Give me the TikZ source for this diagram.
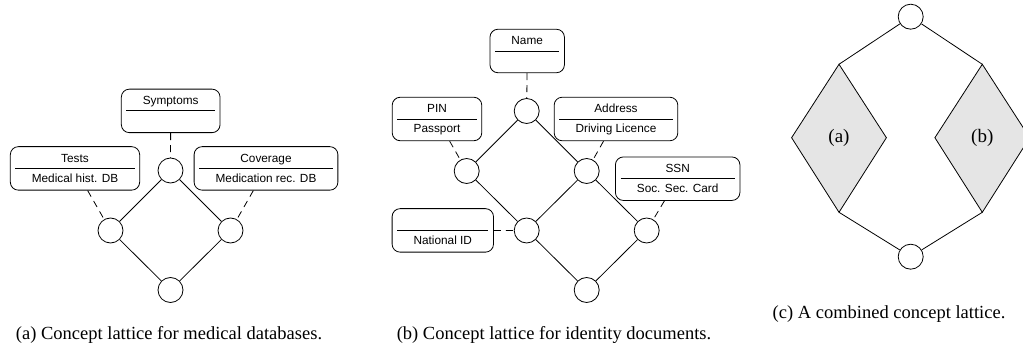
\documentclass[tikz,border=0pt]{standalone}
\usepackage{fontspec}
\setmainfont{Liberation Serif}
\setsansfont{Liberation Sans}
\begin{document}
\begin{tikzpicture}[x=1pt,y=-1pt,line width=0.8pt,
    concept/.style={draw,circle,minimum size=25pt,inner sep=0pt},
    attr/.style={draw,rounded corners=8pt,minimum height=43.5pt,inner xsep=21.5pt,inner ysep=0pt,
      align=center,font=\sffamily\fontsize{11.8}{20}\selectfont},
    link/.style={dash pattern=on 7pt off 5pt},
    subcap/.style={font=\fontsize{18.5}{22}\selectfont,anchor=base}]
    \useasboundingbox (0,0) rectangle (1023,347);
    % (a) medical databases
    \node[concept] (aT) at (170.5,170.5) {};
    \node[concept] (aL) at (110.5,230.5) {};
    \node[concept] (aR) at (230.5,230.5) {};
    \node[concept] (aB) at (170.5,290) {};
    \draw (aT) -- (aL) -- (aB) -- (aR) -- (aT);
    \node[attr] (symp) at (170.7,110.9) {\strut Symptoms\\\strut};
    \node[attr] (tests) at (75,168.4) {\strut Tests\\\strut Medical hist. DB};
    \node[attr] (cov) at (266,168.4) {\strut Coverage\\\strut Medication rec. DB};
    \draw[link] (symp) -- (aT);
    \draw[link] (tests) -- (aL);
    \draw[link] (cov) -- (aR);
    % (b) identity documents
    \node[concept] (bT) at (526.7,111) {};
    \node[concept] (bL) at (466.7,171) {};
    \node[concept] (bM) at (586.7,171) {};
    \node[concept] (bC) at (526.7,230.5) {};
    \node[concept] (bR) at (646.7,230.5) {};
    \node[concept] (bB) at (586.7,290) {};
    \draw (bT) -- (bL) -- (bC) -- (bB) -- (bR) -- (bM) -- (bT);
    \draw (bM) -- (bC);
    \node[attr] (name) at (527.2,51) {\strut Name\\\strut};
    \node[attr] (pin) at (437,119) {\strut PIN\\\strut Passport};
    \node[attr] (addr) at (616,119) {\strut Address\\\strut Driving Licence};
    \node[attr,anchor=west] (ssn) at (615,178.7) {\strut SSN\\\strut Soc. Sec. Card};
    \node[attr] (natid) at (442.8,230.4) {\strut\\\strut National ID};
    \draw[link] (name) -- (bT);
    \draw[link] (pin) -- (bL);
    \draw[link] (addr) -- (bM);
    \draw[link] (ssn) -- (bR);
    \draw[link] (natid) -- (bC);
    \foreach \n in {symp,tests,cov,name,pin,addr,ssn,natid}
      \draw ([xshift=5.5pt]\n.west) -- ([xshift=-5.5pt]\n.east);
    % (c) combined lattice
    \node[concept] (cT) at (910.7,16.7) {};
    \node[concept] (cB) at (910.7,256.7) {};
    \foreach \p/\x in {a/839,b/982.3} {
      \draw[fill=black!10] (\x,64.3) coordinate (\p top) -- (\x-47.4,137.7)
        -- (\x,212.3) coordinate (\p bot) -- (\x+47.4,137.7) -- cycle;
      \node[font=\fontsize{19}{22}\selectfont] (\p lab) at (\x,137.7) {(\p)};
      \draw (cT) -- (\p top);
      \draw (\p bot) -- (cB);
    }
    % captions
    \node[subcap] (capa) at (169,340) {(a) Concept lattice for medical databases.};
    \node[subcap] (capb) at (554,340) {(b) Concept lattice for identity documents.};
    \node[subcap] (capc) at (889,318.5) {(c) A combined concept lattice.};
\end{tikzpicture}
\end{document}
